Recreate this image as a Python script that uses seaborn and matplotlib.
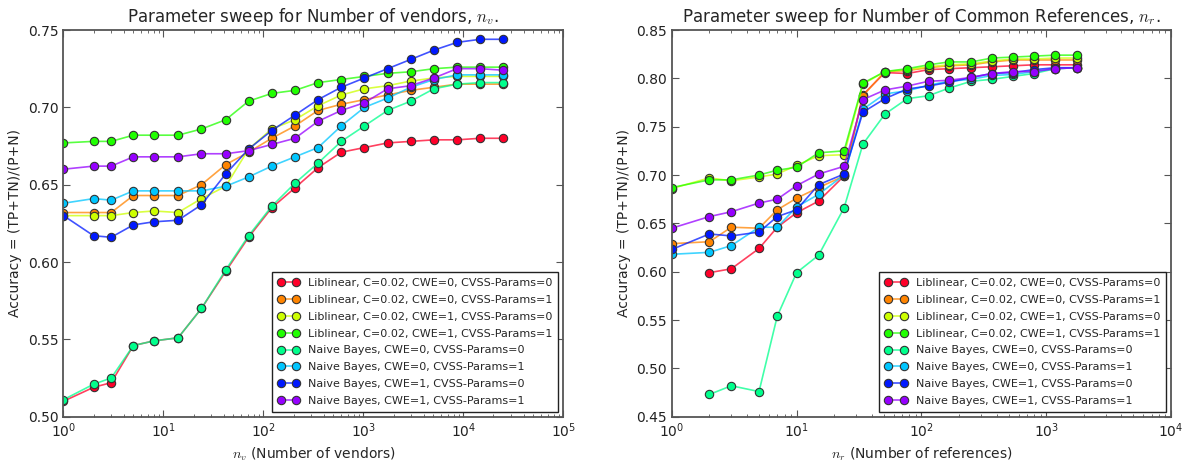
import numpy as np
import matplotlib
matplotlib.use("Agg")
import matplotlib.pyplot as plt
import matplotlib.ticker as mticker
import seaborn as sns

# ---- data -------------------------------------------------------------
series_labels = [
    "Liblinear, C=0.02, CWE=0, CVSS-Params=0",
    "Liblinear, C=0.02, CWE=0, CVSS-Params=1",
    "Liblinear, C=0.02, CWE=1, CVSS-Params=0",
    "Liblinear, C=0.02, CWE=1, CVSS-Params=1",
    "Naive Bayes, CWE=0, CVSS-Params=0",
    "Naive Bayes, CWE=0, CVSS-Params=1",
    "Naive Bayes, CWE=1, CVSS-Params=0",
    "Naive Bayes, CWE=1, CVSS-Params=1",
]

# number of vendors
n_vendors = [1, 2, 3, 5, 8, 14, 24, 42, 71, 121, 207, 352, 601, 1025,
             1747, 2978, 5075, 8650, 14743, 25119]

vend_lib_cwe0_cvss0 = [0.510, 0.519, 0.522, 0.546, 0.549, 0.551, 0.570, 0.594, 0.616, 0.635,
                       0.648, 0.661, 0.671, 0.674, 0.677, 0.678, 0.679, 0.679, 0.680, 0.680]
vend_lib_cwe0_cvss1 = [0.632, 0.632, 0.632, 0.643, 0.643, 0.643, 0.650, 0.663, 0.671, 0.680,
                       0.688, 0.698, 0.702, 0.705, 0.708, 0.711, 0.713, 0.715, 0.715, 0.715]
vend_lib_cwe1_cvss0 = [0.630, 0.630, 0.630, 0.632, 0.633, 0.632, 0.641, 0.649, 0.673, 0.686,
                       0.692, 0.701, 0.708, 0.712, 0.714, 0.717, 0.719, 0.720, 0.720, 0.720]
vend_lib_cwe1_cvss1 = [0.677, 0.678, 0.678, 0.682, 0.682, 0.682, 0.686, 0.692, 0.704, 0.709,
                       0.711, 0.716, 0.718, 0.720, 0.722, 0.723, 0.725, 0.726, 0.726, 0.726]
vend_nb_cwe0_cvss0 = [0.511, 0.521, 0.525, 0.546, 0.549, 0.551, 0.570, 0.595, 0.617, 0.636,
                      0.651, 0.664, 0.678, 0.688, 0.698, 0.704, 0.712, 0.715, 0.716, 0.716]
vend_nb_cwe0_cvss1 = [0.638, 0.641, 0.640, 0.646, 0.646, 0.646, 0.646, 0.649, 0.655, 0.662,
                      0.668, 0.674, 0.688, 0.700, 0.706, 0.713, 0.718, 0.721, 0.721, 0.721]
vend_nb_cwe1_cvss0 = [0.630, 0.617, 0.616, 0.624, 0.626, 0.627, 0.637, 0.657, 0.673, 0.685,
                      0.695, 0.705, 0.713, 0.719, 0.725, 0.731, 0.737, 0.742, 0.744, 0.744]
vend_nb_cwe1_cvss1 = [0.660, 0.662, 0.662, 0.668, 0.668, 0.668, 0.670, 0.670, 0.672, 0.676,
                      0.680, 0.691, 0.698, 0.703, 0.712, 0.714, 0.719, 0.725, 0.725, 0.724]

# number of common references
n_refs = [1, 2, 3, 5, 7, 10, 15, 24, 34, 51, 77, 114, 167, 251, 367, 541,
          798, 1178, 1758]

ref_lib_cwe0_cvss0 = [np.nan, 0.599, 0.603, 0.624, 0.646, 0.661, 0.673, 0.699, 0.783, 0.806,
                      0.805, 0.809, 0.810, 0.811, 0.812, 0.813, 0.814, 0.814, 0.814]
ref_lib_cwe0_cvss1 = [0.629, 0.631, 0.646, 0.645, 0.664, 0.676, 0.687, 0.699, 0.782, 0.807,
                      0.808, 0.811, 0.813, 0.814, 0.817, 0.819, 0.819, 0.819, 0.819]
ref_lib_cwe1_cvss0 = [0.686, 0.697, 0.694, 0.698, 0.701, 0.710, 0.720, 0.721, 0.794, 0.807,
                      0.809, 0.812, 0.814, 0.815, 0.818, 0.820, 0.820, 0.821, 0.821]
ref_lib_cwe1_cvss1 = [0.687, 0.695, 0.695, 0.700, 0.705, 0.708, 0.723, 0.725, 0.795, 0.807,
                      0.810, 0.814, 0.817, 0.817, 0.821, 0.822, 0.823, 0.824, 0.824]
ref_nb_cwe0_cvss0 = [np.nan, 0.473, 0.482, 0.476, 0.554, 0.599, 0.617, 0.666, 0.732, 0.763,
                     0.779, 0.782, 0.790, 0.797, 0.799, 0.802, 0.805, 0.810, 0.811]
ref_nb_cwe0_cvss1 = [0.618, 0.620, 0.627, 0.646, 0.646, 0.667, 0.680, 0.700, 0.768, 0.784,
                     0.787, 0.793, 0.797, 0.799, 0.803, 0.804, 0.807, 0.810, 0.811]
ref_nb_cwe1_cvss0 = [0.623, 0.639, 0.637, 0.641, 0.657, 0.664, 0.690, 0.701, 0.765, 0.779,
                     0.789, 0.792, 0.796, 0.801, 0.805, 0.806, 0.809, 0.811, 0.811]
ref_nb_cwe1_cvss1 = [0.645, 0.657, 0.662, 0.671, 0.675, 0.689, 0.701, 0.709, 0.778, 0.788,
                     0.792, 0.797, 0.798, 0.801, 0.805, 0.807, 0.807, 0.810, 0.811]

vendor_series = [vend_lib_cwe0_cvss0, vend_lib_cwe0_cvss1, vend_lib_cwe1_cvss0, vend_lib_cwe1_cvss1,
                 vend_nb_cwe0_cvss0, vend_nb_cwe0_cvss1, vend_nb_cwe1_cvss0, vend_nb_cwe1_cvss1]
ref_series = [ref_lib_cwe0_cvss0, ref_lib_cwe0_cvss1, ref_lib_cwe1_cvss0, ref_lib_cwe1_cvss1,
              ref_nb_cwe0_cvss0, ref_nb_cwe0_cvss1, ref_nb_cwe1_cvss0, ref_nb_cwe1_cvss1]

# ---- style ------------------------------------------------------------
sns.set_style("white")
plt.rcParams.update({
    "font.family": ["DejaVu Sans"],
    "font.size": 10,
    "axes.edgecolor": "#555555",
    "axes.linewidth": 1.3,
    "xtick.direction": "in",
    "ytick.direction": "in",
    "xtick.top": True,
    "ytick.right": True,
    "xtick.bottom": True,
    "ytick.left": True,
    "xtick.major.size": 5,
    "ytick.major.size": 5,
    "xtick.minor.size": 2.5,
    "xtick.color": "#555555",
    "ytick.color": "#555555",
    "xtick.labelcolor": "#222222",
    "ytick.labelcolor": "#222222",
    "xtick.labelsize": 10,
    "ytick.labelsize": 10,
})

colors = [plt.cm.gist_rainbow(v) for v in np.linspace(0, 1, 9)[:8]]

fig = plt.figure(figsize=(11.89, 4.61), dpi=100)
ax1 = fig.add_axes([0.0534, 0.0961, 0.4204, 0.8388])
ax2 = fig.add_axes([0.5650, 0.0961, 0.4199, 0.8388])


def draw_panel(ax, xs, series_list):
    for lab, ys, col in zip(series_labels, series_list, colors):
        line_col = (col[0], col[1], col[2], 0.75)
        sns.lineplot(x=xs, y=ys, ax=ax, color=line_col, label=lab,
                     marker="o", markersize=6, markerfacecolor=col[:3],
                     markeredgecolor="#333333", markeredgewidth=0.8,
                     linewidth=1.2, estimator=None, sort=False)
    ax.set_xscale("log")
    ax.xaxis.set_major_locator(mticker.LogLocator(base=10))
    ax.xaxis.set_minor_locator(mticker.LogLocator(base=10, subs=np.arange(2, 10)))
    ax.xaxis.set_minor_formatter(mticker.NullFormatter())
    ax.yaxis.set_major_formatter(mticker.FormatStrFormatter("%.2f"))
    for s in ax.spines.values():
        s.set_visible(True)
    ax.tick_params(which="both", top=True, right=True, direction="in")
    ax.set_ylabel("Accuracy = (TP+TN)/(P+N)", fontsize=10)
    leg = ax.legend(loc="lower right", fontsize=8.0, numpoints=2, fancybox=False,
                    framealpha=1, edgecolor="#222222", borderaxespad=0.45,
                    handlelength=2.0, labelspacing=0.62, handletextpad=0.8,
                    borderpad=0.5)
    leg.get_frame().set_linewidth(1.0)


draw_panel(ax1, n_vendors, vendor_series)
ax1.set_xlim(1, 1e5)
ax1.set_ylim(0.50, 0.75)
ax1.set_yticks(np.arange(0.50, 0.751, 0.05))
ax1.set_xlabel("$n_v$ (Number of vendors)", fontsize=10, math_fontfamily="cm")
ax1.set_title("Parameter sweep for Number of vendors, $n_v$.", fontsize=12,
              math_fontfamily="cm")

draw_panel(ax2, n_refs, ref_series)
ax2.set_xlim(1, 1e4)
ax2.set_ylim(0.45, 0.85)
ax2.set_yticks(np.arange(0.45, 0.851, 0.05))
ax2.set_xlabel("$n_r$ (Number of references)", fontsize=10, math_fontfamily="cm")
ax2.set_title("Parameter sweep for Number of Common References, $n_r$.", fontsize=12,
              math_fontfamily="cm")

fig.savefig("out.png", dpi=100, facecolor="white")
